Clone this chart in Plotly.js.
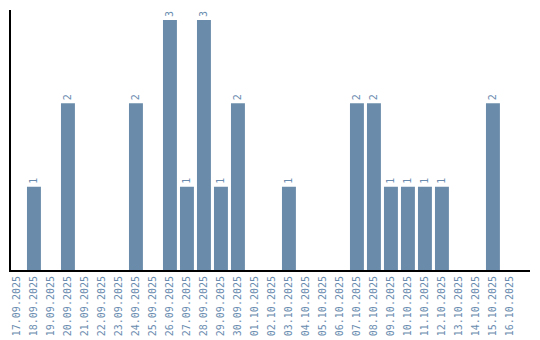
<!DOCTYPE html>
<html>
<head>
<meta charset="utf-8">
<script src="https://cdn.plot.ly/plotly-3.0.1.min.js"></script>
<style>html,body{margin:0;padding:0;background:#fff;}#chart{width:540px;height:340px;}</style>
</head>
<body>
<div id="chart"></div>
<script>
const dates = ["17.09.2025","18.09.2025","19.09.2025","20.09.2025","21.09.2025","22.09.2025","23.09.2025","24.09.2025","25.09.2025","26.09.2025","27.09.2025","28.09.2025","29.09.2025","30.09.2025","01.10.2025","02.10.2025","03.10.2025","04.10.2025","05.10.2025","06.10.2025","07.10.2025","08.10.2025","09.10.2025","10.10.2025","11.10.2025","12.10.2025","13.10.2025","14.10.2025","15.10.2025","16.10.2025"];
const counts = [0,1,0,2,0,0,0,2,0,3,1,3,1,2,0,0,1,0,0,0,2,2,1,1,1,1,0,0,2,0];
const labels = counts.map(v => v > 0 ? String(v) : "");
const fontFam = "DejaVu Sans Mono, monospace";
const textColor = "#6a8caf";
Plotly.newPlot("chart", [{
  type: "bar",
  x: dates,
  y: counts,
  text: labels,
  textposition: "outside",
  textangle: -90,
  cliponaxis: false,
  constraintext: "none",
  textfont: {family: fontFam, size: 10, color: textColor},
  marker: {color: "#6a8caa"},
  width: 0.82,
  hoverinfo: "none"
}], {
  width: 540, height: 340,
  margin: {l: 11, r: 10, t: 10, b: 70},
  paper_bgcolor: "#fff", plot_bgcolor: "#fff",
  showlegend: false,
  xaxis: {
    type: "category",
    range: [-0.35, 30.18],
    tickangle: -90,
    tickfont: {family: fontFam, size: 10, color: textColor},
    showline: true, linecolor: "#000", linewidth: 2,
    showgrid: false, zeroline: false, ticks: "", ticklen: 0
  },
  yaxis: {
    range: [0, 3.12],
    showticklabels: false,
    showline: true, linecolor: "#000", linewidth: 2,
    showgrid: false, zeroline: false, ticks: ""
  }
}, {displayModeBar: false, staticPlot: true});
</script>
</body>
</html>
